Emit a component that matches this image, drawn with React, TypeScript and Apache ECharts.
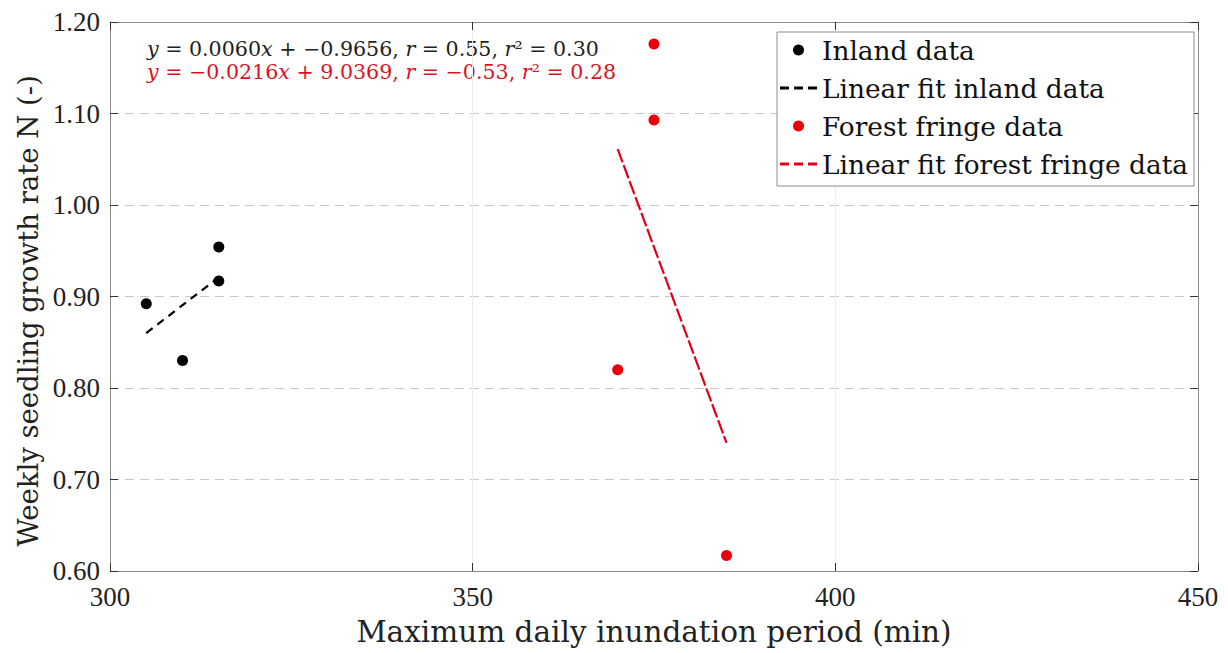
import React, { useEffect, useRef } from "react";
import * as echarts from "echarts";

const inlandX = [305, 310, 315, 315];
const inlandY = [0.892, 0.83, 0.917, 0.954];
const fringeX = [370, 375, 375, 385];
const fringeY = [0.82, 1.176, 1.093, 0.617];
const inlandFitX = [305, 315];
const inlandFitY = [0.86, 0.921];
const fringeFitX = [370, 385];
const fringeFitY = [1.061, 0.74];

const seriesNames = [
  "Inland data",
  "Linear fit inland data",
  "Forest fringe data",
  "Linear fit forest fringe data",
];
const xTitle = "Maximum daily inundation period (min)";
const yTitle = "Weekly seedling growth rate N (-)";
const eqInland = "{i|y} = 0.0060{i|x} + −0.9656, {i|r} = 0.55, {i|r}² = 0.30";
const eqFringe = "{i|y} = −0.0216{i|x} + 9.0369, {i|r} = −0.53, {i|r}² = 0.28";

const TICKFONT = "'Liberation Serif', serif";
const FONT = "'DejaVu Serif', serif";
const zip = (xs: number[], ys: number[]) => xs.map((x, i) => [x, ys[i]]);
const dashIcon = "path://M0,4h9v3h-9z M14,4h9v3h-9z M28,4h9v3h-9z";

export default function App() {
  const ref = useRef<HTMLDivElement>(null);
  useEffect(() => {
    if (!ref.current) return;
    const chart = echarts.init(ref.current, undefined, { renderer: "svg" });
    const axisLine = { show: true, lineStyle: { color: "#8c8c8c", width: 1 } };
    const tick = { show: true, inside: true, length: 8, lineStyle: { color: "#333", width: 1 } };
    const xBase = { type: "value", min: 300, max: 450, interval: 50 };
    const yBase = { type: "value", min: 0.6, max: 1.2, interval: 0.1 };
    chart.setOption({
      animation: false,
      backgroundColor: "#ffffff",
      grid: { left: 110, right: 30, top: 22, bottom: 82, show: false },
      xAxis: [
        {
          ...xBase,
          position: "bottom",
          axisLine,
          axisTick: tick,
          axisLabel: { color: "#222", fontFamily: TICKFONT, fontSize: 27, margin: 12 },
          splitLine: { show: true, lineStyle: { color: "#ececec", width: 1, type: "solid" } },
          name: xTitle,
          nameLocation: "middle",
          nameGap: 46,
          nameTextStyle: { color: "#222", fontFamily: FONT, fontSize: 29.5 },
        },
        {
          ...xBase,
          position: "top",
          axisLine,
          axisTick: tick,
          axisLabel: { show: false },
          splitLine: { show: false },
        },
      ],
      yAxis: [
        {
          ...yBase,
          position: "left",
          axisLine,
          axisTick: tick,
          axisLabel: {
            color: "#222",
            fontFamily: TICKFONT,
            fontSize: 27,
            margin: 10,
            formatter: (v: number) => v.toFixed(2),
          },
          splitLine: { show: true, lineStyle: { color: "#c8c8c8", width: 1, type: [9, 6] } },
        },
        {
          ...yBase,
          position: "right",
          axisLine,
          axisTick: tick,
          axisLabel: { show: false },
          splitLine: { show: false },
        },
      ],
      legend: {
        orient: "vertical",
        left: 777,
        top: 32,
        padding: [5, 6, 9, 3],
        itemWidth: 37,
        itemHeight: 11,
        itemGap: 12,
        backgroundColor: "#ffffff",
        borderColor: "#8c8c8c",
        borderWidth: 1,
        textStyle: { color: "#111", fontFamily: FONT, fontSize: 26.4 },
        data: [
          { name: seriesNames[0], icon: "circle", itemStyle: { color: "#000" } },
          { name: seriesNames[1], icon: dashIcon, itemStyle: { color: "#000" } },
          { name: seriesNames[2], icon: "circle", itemStyle: { color: "#e8000b" } },
          { name: seriesNames[3], icon: dashIcon, itemStyle: { color: "#e0001b" } },
        ],
      },
      graphic: [
        {
          type: "text",
          left: 147,
          top: 38,
          style: {
            text: eqInland,
            fill: "#222",
            font: `20.6px ${FONT}`,
            rich: { i: { fontStyle: "italic", fontFamily: FONT, fontSize: 20.6, fill: "#222" } },
          },
        },
        {
          type: "text",
          left: 147,
          top: 61,
          style: {
            text: eqFringe,
            fill: "#d8141e",
            font: `20.6px ${FONT}`,
            rich: { i: { fontStyle: "italic", fontFamily: FONT, fontSize: 20.6, fill: "#d8141e" } },
          },
        },
        {
          type: "text",
          x: 28,
          y: 311,
          rotation: Math.PI / 2,
          style: {
            text: yTitle,
            fill: "#222",
            font: `27.5px ${FONT}`,
            align: "center",
            verticalAlign: "middle",
          },
        },
      ],
      series: [
        {
          name: seriesNames[0],
          type: "scatter",
          data: zip(inlandX, inlandY),
          symbol: "circle",
          symbolSize: 11,
          itemStyle: { color: "#000000", opacity: 1 },
        },
        {
          name: seriesNames[1],
          type: "line",
          data: zip(inlandFitX, inlandFitY),
          symbol: "none",
          lineStyle: { color: "#000000", width: 2.2, type: [8, 6] },
          itemStyle: { color: "#000000" },
        },
        {
          name: seriesNames[2],
          type: "scatter",
          data: zip(fringeX, fringeY),
          symbol: "circle",
          symbolSize: 11,
          itemStyle: { color: "#e8000b", opacity: 1 },
        },
        {
          name: seriesNames[3],
          type: "line",
          data: zip(fringeFitX, fringeFitY),
          symbol: "none",
          lineStyle: { color: "#e0001b", width: 2.2, type: [14, 3] },
          itemStyle: { color: "#e0001b" },
        },
      ],
    });
    return () => chart.dispose();
  }, []);
  return (
    <div
      ref={ref}
      style={{ width: 1228, height: 653, position: "absolute", left: 0, top: 0, background: "#fff" }}
    />
  );
}
